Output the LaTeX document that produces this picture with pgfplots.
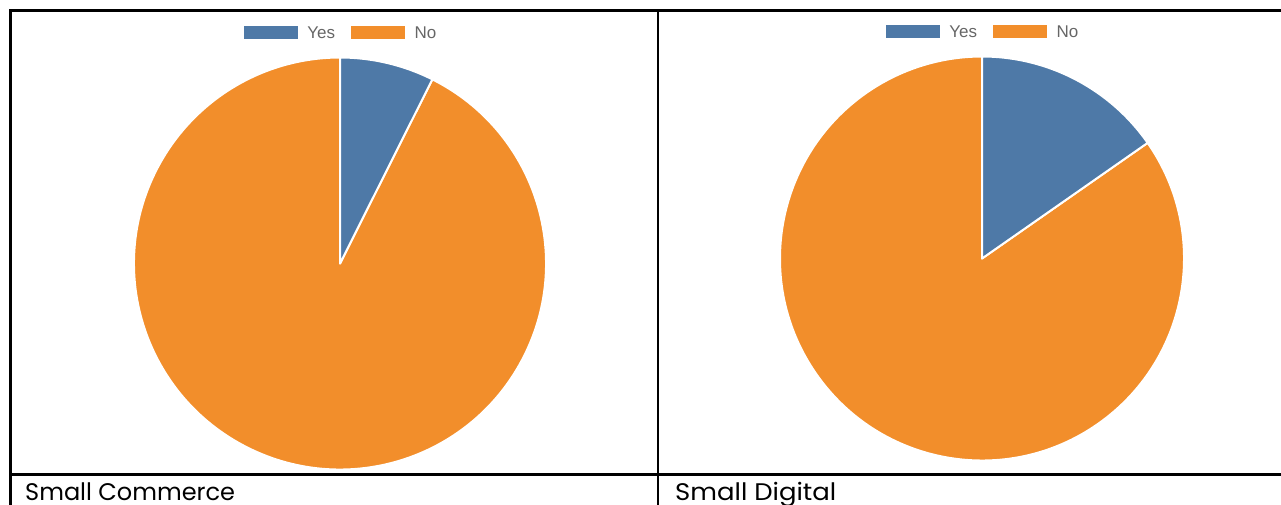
\documentclass[border=0pt]{standalone}
\usepackage{fontspec}
\setmainfont{Poppins}
\newfontfamily\legendfont{Liberation Sans}
\usepackage{pgfplots}
\usepackage{pgfplotstable}
\pgfplotsset{compat=1.18}
\definecolor{pieblue}{HTML}{4E79A7}
\definecolor{pieorange}{HTML}{F28E2B}
\definecolor{legendgray}{HTML}{666666}

\pgfplotstableread{
answer share
Yes 7.4
No 92.6
}\commercedata
\pgfplotstableread{
answer share
Yes 15.3
No 84.7
}\digitaldata

\pgfplotsset{
  pie/.style={hide axis, scale only axis, xmin=-1, xmax=1, ymin=-1, ymax=1,
    anchor=center, clip=false,
    legend columns=2,
    legend style={draw=none, fill=none, at={(0.5,1.059)}, anchor=center, inner sep=0pt,
      font=\legendfont\fontsize{17}{20}\selectfont, text=legendgray,
      /tikz/every odd column/.style={column sep=9.5pt},
      /tikz/every even column/.style={column sep=16pt},
      nodes={inner sep=0pt}},
    legend image code/.code={%
      \path[draw=none, fill=none] (0pt,-20pt) (0pt,20pt);
      \fill[##1, draw=none] (0pt,-5.5pt) rectangle (54pt,7.5pt);},
  }
}

\begin{document}
\begin{tikzpicture}
\useasboundingbox (0pt,-504pt) rectangle (1281pt,0pt);
\clip (0pt,-504pt) rectangle (1281pt,0pt);

% Commerce pie
\pgfplotstablegetelem{0}{share}\of\commercedata
\pgfmathsetmacro{\commerceangle}{90-3.6*\pgfplotsretval}
\pgfmathsetmacro{\commercex}{cos(\commerceangle)}
\pgfmathsetmacro{\commercey}{sin(\commerceangle)}
\begin{axis}[pie, width=412pt, height=412pt, at={(340pt,-263.5pt)}]
  \addlegendimage{fill=pieblue}
  \addlegendentry{Yes}
  \addlegendimage{fill=pieorange}
  \addlegendentry{No}
  \filldraw[fill=pieorange, draw=white, line width=2pt, line join=round]
    (axis cs:0,0) -- (axis cs:\commercex,\commercey)
    arc[start angle=\commerceangle, end angle=-270, radius=206pt] -- cycle;
  \filldraw[fill=pieblue, draw=white, line width=2pt, line join=round]
    (axis cs:0,0) -- (axis cs:0,1)
    arc[start angle=90, end angle=\commerceangle, radius=206pt] -- cycle;
\end{axis}

% Digital pie
\pgfplotstablegetelem{0}{share}\of\digitaldata
\pgfmathsetmacro{\digitalangle}{90-3.6*\pgfplotsretval}
\pgfmathsetmacro{\digitalx}{cos(\digitalangle)}
\pgfmathsetmacro{\digitaly}{sin(\digitalangle)}
\begin{axis}[pie, width=404pt, height=404pt, at={(982pt,-258.5pt)}]
  \addlegendimage{fill=pieblue}
  \addlegendentry{Yes}
  \addlegendimage{fill=pieorange}
  \addlegendentry{No}
  \filldraw[fill=pieorange, draw=white, line width=2pt, line join=round]
    (axis cs:0,0) -- (axis cs:\digitalx,\digitaly)
    arc[start angle=\digitalangle, end angle=-270, radius=202pt] -- cycle;
  \filldraw[fill=pieblue, draw=white, line width=2pt, line join=round]
    (axis cs:0,0) -- (axis cs:0,1)
    arc[start angle=90, end angle=\digitalangle, radius=202pt] -- cycle;
\end{axis}

% table rules
\draw[line width=2.4pt] (10.5pt,-520pt) -- (10.5pt,-10.5pt) -- (1300pt,-10.5pt);
\draw[line width=2.4pt] (658pt,-10.5pt) -- (658pt,-520pt);
\draw[line width=2.4pt] (9.3pt,-474.5pt) -- (1300pt,-474.5pt);

% captions
\node[anchor=base west, inner sep=0pt, font=\fontsize{24}{28}\selectfont] at (25pt,-500.5pt) {Small Commerce};
\node[anchor=base west, inner sep=0pt, font=\fontsize{24}{28}\selectfont] at (675pt,-500.5pt) {\scalebox{1.08}[1]{Small Digital}};
\end{tikzpicture}
\end{document}
